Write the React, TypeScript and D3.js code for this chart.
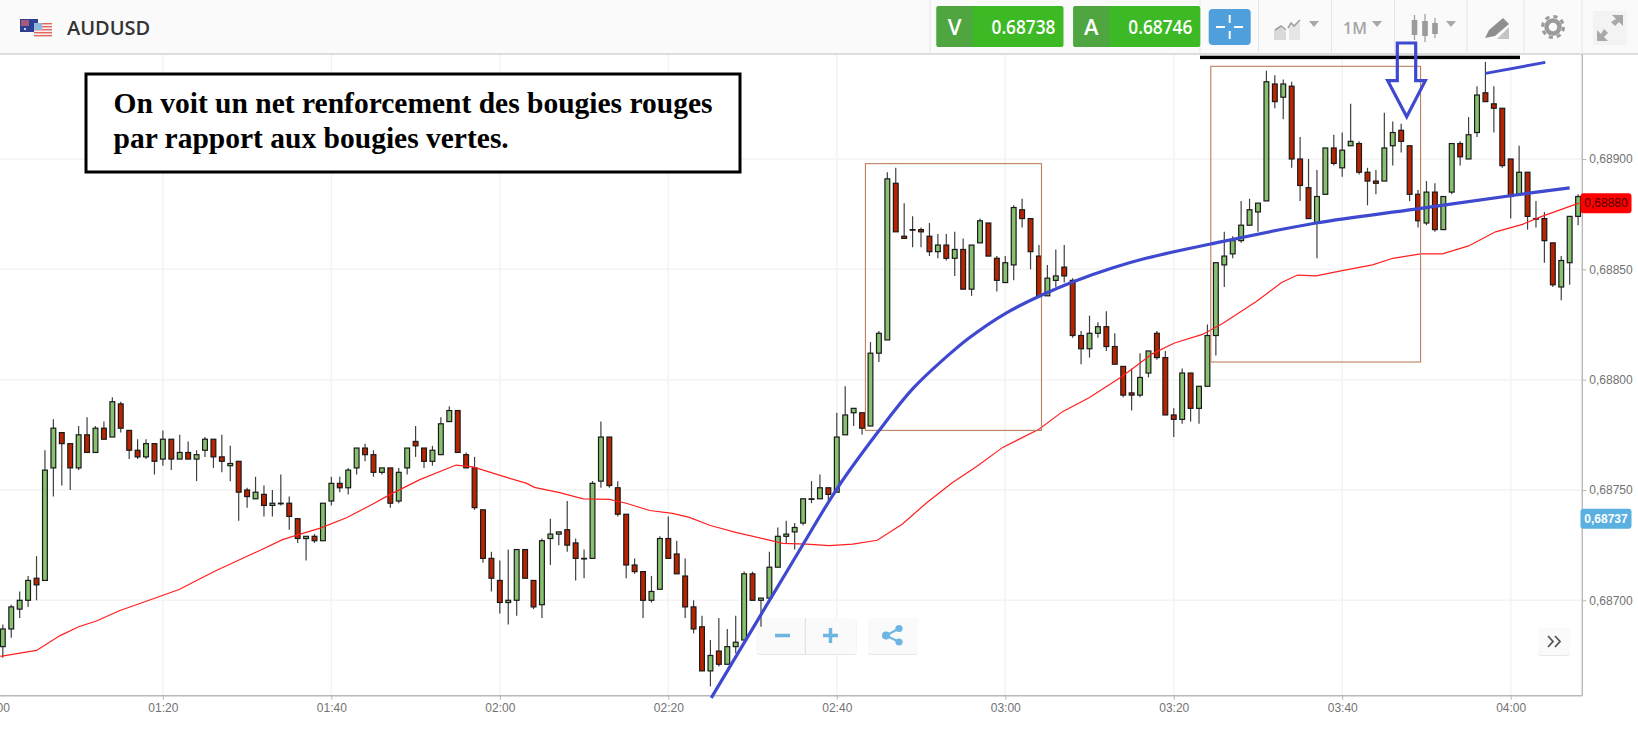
import { useEffect, useRef } from 'react';
import * as d3 from 'd3';

// prices are in 1/100000 units (68900 = 0,68900), minutes count from 01:00
const firstMinute = 1;

const candleOpen = [
  68679, 68687, 68696, 68700, 68710, 68709, 68760, 68776, 68771, 68760,
  68775, 68767, 68778, 68774, 68789, 68777, 68768, 68765, 68771, 68764,
  68773, 68764, 68767, 68764, 68768, 68773, 68765, 68761, 68763, 68750,
  68746, 68748, 68743, 68744, 68744, 68737, 68728, 68729, 68727, 68745,
  68753, 68751, 68760, 68769, 68766, 68758, 68760, 68745, 68760, 68772,
  68769, 68763, 68766, 68781, 68786, 68766, 68760, 68741, 68719, 68709,
  68699, 68700, 68723, 68709, 68698, 68728, 68730, 68732, 68726, 68719,
  68719, 68754, 68774, 68751, 68739, 68716, 68713, 68700, 68705, 68728,
  68721, 68711, 68697, 68688, 68668, 68677, 68671, 68679, 68682, 68712,
  68700, 68701, 68715, 68729, 68731, 68735, 68746, 68746, 68751, 68749,
  68775, 68785, 68785, 68779, 68812, 68818, 68889, 68865, 68868, 68868,
  68865, 68858, 68861, 68855, 68859, 68841, 68862, 68871, 68855, 68844,
  68852, 68877, 68873, 68856, 68838, 68845, 68851, 68845, 68820, 68814,
  68821, 68824, 68815, 68806, 68794, 68793, 68803, 68821, 68810, 68784,
  68782, 68803, 68787, 68797, 68820, 68852, 68857, 68863, 68870, 68876,
  68881, 68934, 68928, 68933, 68900, 68887, 68871, 68884, 68905, 68896,
  68906, 68907, 68894, 68890, 68890, 68906, 68913, 68906, 68884, 68871,
  68885, 68868, 68885, 68907, 68900, 68912, 68930, 68925, 68923, 68900,
  68884, 68894, 68873, 68873, 68862, 68842, 68853, 68874,
];

const candleClose = [
  68687, 68697, 68700, 68709, 68707, 68759, 68778, 68771, 68760, 68775,
  68767, 68778, 68773, 68790, 68778, 68768, 68765, 68771, 68763, 68773,
  68764, 68767, 68764, 68766, 68773, 68765, 68763, 68762, 68749, 68747,
  68749, 68743, 68744, 68744, 68738, 68728, 68729, 68727, 68744, 68753,
  68751, 68759, 68769, 68766, 68758, 68760, 68744, 68758, 68769, 68770,
  68763, 68768, 68780, 68786, 68767, 68760, 68742, 68719, 68710, 68699,
  68700, 68723, 68710, 68697, 68727, 68730, 68731, 68725, 68719, 68719,
  68753, 68774, 68752, 68739, 68716, 68713, 68700, 68704, 68728, 68719,
  68712, 68697, 68687, 68668, 68675, 68671, 68679, 68681, 68712, 68700,
  68701, 68715, 68729, 68730, 68733, 68746, 68746, 68751, 68748, 68774,
  68784, 68787, 68778, 68812, 68821, 68891, 68867, 68864, 68868, 68867,
  68858, 68861, 68855, 68859, 68841, 68861, 68872, 68856, 68845, 68853,
  68878, 68873, 68858, 68838, 68846, 68847, 68847, 68820, 68814, 68821,
  68824, 68815, 68807, 68793, 68793, 68801, 68813, 68810, 68784, 68782,
  68803, 68787, 68797, 68820, 68853, 68856, 68863, 68870, 68877, 68880,
  68935, 68926, 68934, 68900, 68888, 68873, 68883, 68905, 68898, 68904,
  68908, 68894, 68890, 68889, 68905, 68912, 68908, 68884, 68872, 68885,
  68868, 68883, 68907, 68901, 68911, 68929, 68926, 68923, 68897, 68883,
  68894, 68874, 68873, 68863, 68843, 68854, 68874, 68883,
];

const candleHigh = [
  68689, 68698, 68704, 68711, 68720, 68768, 68782, 68776, 68771, 68779,
  68783, 68779, 68781, 68792, 68790, 68777, 68773, 68773, 68771, 68777,
  68773, 68775, 68772, 68768, 68774, 68773, 68775, 68770, 68763, 68751,
  68756, 68752, 68750, 68757, 68747, 68737, 68729, 68730, 68744, 68756,
  68756, 68760, 68769, 68771, 68768, 68760, 68760, 68760, 68769, 68779,
  68769, 68770, 68783, 68788, 68786, 68767, 68765, 68741, 68722, 68718,
  68723, 68723, 68723, 68709, 68728, 68737, 68731, 68745, 68728, 68723,
  68754, 68781, 68774, 68754, 68739, 68719, 68713, 68711, 68729, 68738,
  68727, 68719, 68700, 68693, 68682, 68692, 68687, 68693, 68713, 68713,
  68701, 68722, 68733, 68736, 68735, 68746, 68754, 68757, 68751, 68785,
  68797, 68787, 68785, 68817, 68822, 68894, 68896, 68880, 68874, 68869,
  68871, 68866, 68866, 68867, 68864, 68861, 68873, 68871, 68856, 68856,
  68879, 68882, 68873, 68861, 68852, 68859, 68861, 68846, 68822, 68829,
  68826, 68831, 68821, 68806, 68805, 68812, 68813, 68822, 68813, 68787,
  68805, 68803, 68797, 68825, 68853, 68867, 68865, 68881, 68882, 68880,
  68940, 68938, 68936, 68935, 68910, 68900, 68895, 68905, 68911, 68912,
  68925, 68908, 68896, 68895, 68921, 68917, 68916, 68906, 68886, 68890,
  68889, 68883, 68907, 68908, 68919, 68933, 68944, 68933, 68923, 68900,
  68906, 68894, 68881, 68876, 68862, 68856, 68874, 68884,
];

const candleLow = [
  68674, 68683, 68692, 68697, 68700, 68709, 68747, 68752, 68750, 68759,
  68767, 68767, 68773, 68774, 68776, 68764, 68764, 68764, 68757, 68761,
  68759, 68764, 68764, 68754, 68765, 68760, 68758, 68754, 68736, 68742,
  68746, 68738, 68738, 68743, 68732, 68726, 68718, 68726, 68727, 68743,
  68749, 68748, 68757, 68763, 68756, 68757, 68742, 68744, 68757, 68765,
  68760, 68761, 68766, 68781, 68767, 68760, 68741, 68717, 68704, 68694,
  68689, 68693, 68710, 68696, 68692, 68716, 68725, 68722, 68709, 68710,
  68719, 68751, 68751, 68738, 68710, 68712, 68692, 68699, 68705, 68719,
  68712, 68692, 68685, 68668, 68661, 68670, 68671, 68676, 68682, 68700,
  68688, 68701, 68715, 68726, 68723, 68734, 68744, 68746, 68745, 68749,
  68775, 68779, 68775, 68779, 68808, 68818, 68867, 68864, 68860, 68860,
  68856, 68855, 68854, 68847, 68841, 68838, 68862, 68856, 68840, 68844,
  68845, 68869, 68850, 68838, 68838, 68842, 68844, 68819, 68807, 68810,
  68819, 68813, 68807, 68792, 68786, 68792, 68801, 68809, 68784, 68774,
  68780, 68781, 68780, 68797, 68811, 68842, 68855, 68862, 68870, 68867,
  68881, 68923, 68918, 68896, 68881, 68873, 68855, 68884, 68897, 68892,
  68906, 68893, 68879, 68884, 68890, 68897, 68903, 68881, 68869, 68870,
  68867, 68868, 68884, 68897, 68900, 68910, 68926, 68912, 68896, 68873,
  68884, 68868, 68869, 68853, 68842, 68836, 68843, 68870,
];

// moving average
const maMinutes = [
  0.7, 5, 7.8, 10, 12.1, 14.9, 17.6, 22, 24, 26.4, 31.5, 34.2, 36.3, 38.6, 41.8, 44.6, 47, 50.5,
  54.8, 56.8, 60.8, 63.2, 64.1, 67.1, 69.9, 73, 75, 77.8, 80.5, 82.5, 84.9, 88, 91.6, 93.6, 96.4,
  99.1, 101.9, 104.8, 107.8, 110.6, 113.7, 116.6, 119.7, 124, 126.8, 130, 133.9, 137.5, 140.1,
  143.4, 145.8, 149.8, 152.8, 154.7, 156.9, 160, 163.6, 166, 169.3, 171.9, 175, 178.2, 181.4,
  183.7, 188.1,
];
const maValues = [
  68674.6, 68677.3, 68684, 68688, 68690.6, 68695.4, 68699, 68705, 68709, 68713.6, 68722.6, 68727.5,
  68730, 68732.6, 68737.4, 68743, 68748, 68754.7, 68761.3, 68760.5, 68755.7, 68753, 68751.2,
  68748.8, 68746, 68745.7, 68744, 68740.7, 68739.4, 68737.6, 68734, 68730.8, 68727.6, 68725.8,
  68725.5, 68724.8, 68725.5, 68727.2, 68734.6, 68744, 68753.3, 68760.6, 68769.3, 68777.5, 68785.5,
  68791.9, 68801.5, 68811.8, 68816.6, 68820.5, 68825.4, 68835.4, 68844, 68847.4, 68847, 68849.4,
  68852, 68855, 68857, 68857, 68860.6, 68867, 68870.4, 68874, 68880,
];

// hand drawn blue curve
const curveMinutes = [85.1, 95.6, 100.1, 105, 109, 113, 115.7, 120.1, 124.9, 128, 132.7, 136.7, 144.4, 156.9, 168.7, 180.6, 187];
const curveValues = [68655.8, 68722.8, 68751, 68776.8, 68795.8, 68810.3, 68818.9, 68830.2, 68839.3, 68844.3, 68850.6, 68855, 68861.5, 68871, 68877.3, 68883.7, 68886.9];

const priceTicks = [68700, 68750, 68800, 68850, 68900];
const timeTicks = [0, 20, 40, 60, 80, 100, 120, 140, 160, 180];
const timeLabels = ['01:00', '01:20', '01:40', '02:00', '02:20', '02:40', '03:00', '03:20', '03:40', '04:00'];

const lastPrice = 68880;
const askLine = 68737;

const noteLines = ['On voit un net renforcement des bougies rouges', 'par rapport aux bougies vertes.'];

const WIDTH = 1638;
const HEIGHT = 729;
const SANS = '"Liberation Sans", Arial, sans-serif';
const OPEN = '"Open Sans", sans-serif';

const fmtPrice = (v: number) => (v / 100000).toFixed(5).replace('.', ',');

export default function App() {
  const svgRef = useRef<SVGSVGElement>(null);

  useEffect(() => {
    if (!svgRef.current) return;
    const svg = d3.select(svgRef.current);
    svg.selectAll('*').remove();

    const x = d3.scaleLinear().domain([0, 180]).range([-5.6, 1510.7]);
    const y = d3.scaleLinear().domain([68700, 68900]).range([600.3, 159]);
    const axisX = 1582.3;
    const axisY = 695.7;
    const topY = 54;

    svg.append('rect').attr('width', WIDTH).attr('height', HEIGHT).attr('fill', '#fff');

    // Grid
    const grid = svg.append('g').attr('stroke', '#f3f3f3').attr('stroke-width', 1.5);
    timeTicks.forEach((t) => {
      grid.append('line').attr('x1', x(t)).attr('x2', x(t)).attr('y1', topY).attr('y2', axisY);
    });
    priceTicks.forEach((p) => {
      grid.append('line').attr('x1', 0).attr('x2', axisX).attr('y1', y(p)).attr('y2', y(p));
    });

    // Zoom and share buttons sit under the candles
    const panel = (px: number, py: number, w: number, h: number) => {
      svg.append('rect').attr('x', px).attr('y', py + 1).attr('width', w).attr('height', h).attr('rx', 3).attr('fill', '#e8e8e8');
      svg.append('rect').attr('x', px).attr('y', py).attr('width', w).attr('height', h).attr('rx', 3).attr('fill', '#fafafa');
    };
    const btnBlue = '#6db5e3';
    panel(756.7, 618, 100, 36);
    svg.append('line').attr('x1', 805.3).attr('x2', 805.3).attr('y1', 618).attr('y2', 654).attr('stroke', '#dddddd');
    svg.append('path').attr('d', 'M775,635.5H790M823,635.5H838M830.5,628V643').attr('stroke', btnBlue).attr('stroke-width', 3.4);
    panel(868, 618, 50, 36);
    svg.append('path').attr('d', 'M899,628.5L886,635.5L899,642').attr('fill', 'none').attr('stroke', btnBlue).attr('stroke-width', 2);
    [[899, 628.5, 3.6], [886, 635.5, 4], [899, 642, 3.6]].forEach(([cx, cy, r]) => {
      svg.append('circle').attr('cx', cx).attr('cy', cy).attr('r', r).attr('fill', btnBlue);
    });
    panel(1538, 628, 32, 27);
    svg.append('path').attr('d', 'M1548,636L1553,641.5L1548,647M1555,636L1560,641.5L1555,647').attr('fill', 'none').attr('stroke', '#555').attr('stroke-width', 1.8);

    // Candles
    const candleG = svg.append('g');
    candleOpen.forEach((open, i) => {
      const close = candleClose[i];
      const cx = x(firstMinute + i);
      const top = y(Math.max(open, close));
      const bottom = y(Math.min(open, close));
      candleG.append('line')
        .attr('x1', cx).attr('x2', cx)
        .attr('y1', y(candleHigh[i])).attr('y2', y(candleLow[i]))
        .attr('stroke', '#404040')
        .attr('stroke-width', 1.2);
      candleG.append('rect')
        .attr('x', cx - 2.4)
        .attr('y', top)
        .attr('width', 4.8)
        .attr('height', Math.max(bottom - top, 0.6))
        .attr('fill', close >= open ? '#87c06e' : '#b82400')
        .attr('stroke', '#1a1a1a')
        .attr('stroke-width', 1.2);
    });

    // Moving average
    const line = d3.line<number>()
      .x((_, i) => x(maMinutes[i]))
      .y((d) => y(d));
    svg.append('path')
      .attr('d', line(maValues))
      .attr('fill', 'none')
      .attr('stroke', '#ff1f1f')
      .attr('stroke-width', 1.2);

    // Right axis
    const right = svg.append('g')
      .attr('transform', `translate(${axisX},0)`)
      .call(d3.axisRight(y).tickValues(priceTicks).tickSize(4).tickPadding(3).tickFormat((d) => fmtPrice(+d)));
    right.select('.domain').remove();
    right.selectAll('line').attr('stroke', '#b5b5b5');
    right.selectAll('text').attr('fill', '#727272').style('font-family', SANS).style('font-size', '12px');
    svg.append('line')
      .attr('x1', axisX).attr('x2', axisX).attr('y1', topY).attr('y2', axisY)
      .attr('stroke', '#b8b8b8').attr('stroke-width', 1.4);

    // Bottom axis
    const bottom = svg.append('g')
      .attr('transform', `translate(0,${axisY})`)
      .call(d3.axisBottom(x).tickValues(timeTicks).tickSize(4).tickPadding(4).tickFormat((_, i) => timeLabels[i]));
    bottom.select('.domain').remove();
    bottom.selectAll('line').attr('stroke', '#b5b5b5');
    bottom.selectAll('text').attr('fill', '#727272').style('font-family', SANS).style('font-size', '12px');
    svg.append('line')
      .attr('x1', 0).attr('x2', axisX).attr('y1', axisY).attr('y2', axisY)
      .attr('stroke', '#b8b8b8').attr('stroke-width', 1.4);

    // Price badges
    const badge = (price: number, fill: string, textFill: string, weight: string) => {
      const cy = y(price);
      svg.append('rect')
        .attr('x', 1580.5).attr('y', cy - 10).attr('width', 51).attr('height', 20).attr('rx', 3)
        .attr('fill', fill);
      svg.append('text')
        .attr('x', 1606).attr('y', cy + 4.3)
        .attr('text-anchor', 'middle')
        .attr('fill', textFill)
        .attr('font-family', SANS)
        .attr('font-size', 12)
        .attr('font-weight', weight)
        .text(fmtPrice(price));
    };
    badge(lastPrice, '#ff0000', '#4d0000', 'normal');
    badge(askLine, '#5ab0e0', '#ffffff', 'bold');

    // Boxes drawn on the chart
    const boxes = [
      { t0: 103.4, t1: 124.3, p0: 68777, p1: 68897.9 },
      { t0: 144.4, t1: 169.3, p0: 68808, p1: 68942 },
    ];
    boxes.forEach((b) => {
      svg.append('rect')
        .attr('x', x(b.t0)).attr('y', y(b.p1))
        .attr('width', x(b.t1) - x(b.t0)).attr('height', y(b.p0) - y(b.p1))
        .attr('fill', 'none')
        .attr('stroke', '#bb7f5c')
        .attr('stroke-width', 1.1);
    });

    // Blue curve
    const curve = d3.line<number>()
      .curve(d3.curveCatmullRom)
      .x((_, i) => x(curveMinutes[i]))
      .y((d) => y(d));
    svg.append('path')
      .attr('d', curve(curveValues))
      .attr('fill', 'none')
      .attr('stroke', '#3f49cf')
      .attr('stroke-width', 3.2);

    // Small blue stroke near the top
    svg.append('line')
      .attr('x1', x(177)).attr('y1', y(68938.8))
      .attr('x2', x(184.1)).attr('y2', y(68943.8))
      .attr('stroke', '#3f49cf')
      .attr('stroke-width', 3);

    // Toolbar
    const bar = svg.append('g');
    bar.append('rect').attr('width', WIDTH).attr('height', 54).attr('fill', '#fafafa');
    bar.append('line').attr('x1', 0).attr('x2', WIDTH).attr('y1', 54).attr('y2', 54).attr('stroke', '#bdbdbd').attr('stroke-width', 1.2);
    [930, 1200, 1258.5, 1331.5, 1394.5, 1467, 1524, 1582].forEach((sx) => {
      bar.append('line').attr('x1', sx).attr('x2', sx).attr('y1', 0).attr('y2', 54).attr('stroke', '#e6e6e6');
    });

    // Flags
    bar.append('rect').attr('x', 20).attr('y', 19).attr('width', 18).attr('height', 13).attr('fill', '#2b3f93');
    bar.append('rect').attr('x', 21).attr('y', 20).attr('width', 8).attr('height', 6).attr('fill', '#a45a78');
    bar.append('circle').attr('cx', 25).attr('cy', 29).attr('r', 1).attr('fill', '#fff');
    bar.append('rect').attr('x', 34).attr('y', 23).attr('width', 18).attr('height', 13).attr('fill', '#f7f0f0');
    [23, 26, 29, 32, 35].forEach((sy) => {
      bar.append('rect').attr('x', 34).attr('y', sy).attr('width', 18).attr('height', 1.4).attr('fill', '#e2675f');
    });
    bar.append('rect').attr('x', 34).attr('y', 23).attr('width', 8).attr('height', 7).attr('fill', '#8fb6dc');

    bar.append('text')
      .attr('x', 67).attr('y', 35)
      .attr('font-family', OPEN).attr('font-size', 20).attr('font-weight', 600)
      .attr('fill', '#333')
      .text('AUDUSD');

    // Bid / ask buttons
    const quote = (bx: number, letter: string, value: string) => {
      bar.append('rect').attr('x', bx).attr('y', 6).attr('width', 127).attr('height', 41).attr('rx', 2).attr('fill', '#3db925');
      bar.append('path')
        .attr('d', `M${bx + 2},6H${bx + 36}V47H${bx + 2}a2,2 0 0 1 -2,-2V8a2,2 0 0 1 2,-2z`)
        .attr('fill', '#4fa540');
      bar.append('text')
        .attr('x', bx + 18).attr('y', 35)
        .attr('text-anchor', 'middle')
        .attr('font-family', OPEN).attr('font-size', 22).attr('font-weight', 600)
        .attr('fill', '#fff')
        .text(letter);
      bar.append('text')
        .attr('x', bx + 87).attr('y', 33.5)
        .attr('text-anchor', 'middle')
        .attr('font-family', OPEN).attr('font-size', 19).attr('font-weight', 600)
        .attr('textLength', 64)
        .attr('lengthAdjust', 'spacingAndGlyphs')
        .attr('fill', '#fff')
        .text(value);
    };
    quote(936.5, 'V', '0.68738');
    quote(1073.3, 'A', '0.68746');

    // Crosshair button
    bar.append('rect').attr('x', 1208.7).attr('y', 9).attr('width', 42).attr('height', 36).attr('rx', 4).attr('fill', '#4f9fdd');
    bar.append('path')
      .attr('d', 'M1229.7,15V23M1229.7,31V39M1216,27H1225M1234,27H1243')
      .attr('stroke', '#fff').attr('stroke-width', 2);

    const iconGrey = '#9b9b9b';
    const caret = (cx: number, cy: number) => {
      bar.append('path').attr('d', `M${cx - 5},${cy - 3}H${cx + 5}L${cx},${cy + 3}z`).attr('fill', '#a8a8a8');
    };

    // Chart type icon
    bar.append('path').attr('d', 'M1274,40V30L1281,27L1286,32V40z').attr('fill', '#d9d9d9');
    bar.append('path').attr('d', 'M1289,40V27L1294,24L1300,22V40z').attr('fill', '#e6e6e6');
    bar.append('path').attr('d', 'M1275,30L1281,26L1286,30M1288,28L1291,23L1294,26L1300,20').attr('fill', 'none').attr('stroke', '#a0a0a0').attr('stroke-width', 1.6);
    caret(1314, 24);

    bar.append('text')
      .attr('x', 1355).attr('y', 34)
      .attr('text-anchor', 'middle')
      .attr('font-family', OPEN).attr('font-size', 16).attr('font-weight', 600)
      .attr('fill', '#a6a6a6')
      .text('1M');
    caret(1377, 24);

    // Candle icon
    [[1414.5, 15, 40, 20, 35], [1425, 14, 42, 21, 36], [1435, 18, 38, 23, 34]].forEach(([cx, w0, w1, b0, b1]) => {
      bar.append('line').attr('x1', cx).attr('x2', cx).attr('y1', w0).attr('y2', w1).attr('stroke', iconGrey).attr('stroke-width', 1.2);
      bar.append('rect').attr('x', cx - 2.8).attr('y', b0).attr('width', 5.6).attr('height', b1 - b0).attr('fill', iconGrey);
    });
    caret(1451, 24);

    // Drawing tool icon
    bar.append('path').attr('d', 'M1485,38L1489,30L1503,18L1509,24L1495,36z').attr('fill', '#8f8f8f');
    bar.append('path').attr('d', 'M1497,39L1509,27V39z').attr('fill', '#c4c4c4');

    // Gear
    bar.append('circle').attr('cx', 1553).attr('cy', 27).attr('r', 6.5).attr('fill', 'none').attr('stroke', iconGrey).attr('stroke-width', 4.5);
    bar.append('circle').attr('cx', 1553).attr('cy', 27).attr('r', 10.5).attr('fill', 'none').attr('stroke', iconGrey).attr('stroke-width', 3).attr('stroke-dasharray', '4.2 4.05');

    // Fullscreen
    bar.append('rect').attr('x', 1593).attr('y', 11).attr('width', 34).attr('height', 34).attr('fill', '#f3f3f3');
    bar.append('path').attr('d', 'M1612,15H1623V26L1619,22L1615,26L1611,22L1616,19z').attr('fill', '#a8a8a8');
    bar.append('path').attr('d', 'M1597,30V41H1608L1604,37L1608,33L1604,29L1601,34z').attr('fill', '#a8a8a8');

    // Black stroke under the toolbar
    svg.append('rect').attr('x', 1200).attr('y', 55.7).attr('width', 320).attr('height', 3.4).attr('fill', '#000');

    // Down arrow
    svg.append('path')
      .attr('d', 'M1397.3,43H1415.7V80.7H1425.3L1406.7,116.7L1387.7,80.7H1397.3z')
      .attr('fill', 'none')
      .attr('stroke', '#3f49cf')
      .attr('stroke-width', 3.2);

    // Note box
    svg.append('rect')
      .attr('x', 86).attr('y', 74).attr('width', 654).attr('height', 98)
      .attr('fill', '#fff')
      .attr('stroke', '#000')
      .attr('stroke-width', 3);
    noteLines.forEach((txt, i) => {
      svg.append('text')
        .attr('x', 113.5).attr('y', 112.5 + i * 35)
        .attr('font-family', '"Liberation Serif", serif')
        .attr('font-size', 29.5)
        .attr('font-weight', 'bold')
        .attr('fill', '#000')
        .text(txt);
    });
  }, []);

  return (
    <svg
      ref={svgRef}
      width={WIDTH}
      height={HEIGHT}
      style={{ position: 'absolute', top: 0, left: 0, display: 'block' }}
    />
  );
}
